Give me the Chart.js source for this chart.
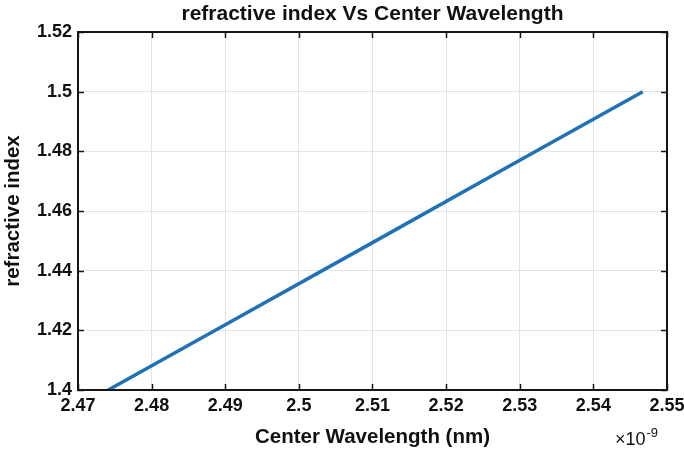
<!DOCTYPE html>
<html>
<head>
<meta charset="utf-8">
<script src="https://cdn.jsdelivr.net/npm/chart.js@4.4.1/dist/chart.umd.min.js"></script>
<style>
  html, body { margin: 0; padding: 0; background: #fff; }
  #wrap { width: 684px; height: 453px; }
</style>
</head>
<body>
<div id="wrap"><canvas id="chart" width="684" height="453"></canvas></div>
<script>
// Center wavelength in units of 1e-9 (axis shows x10^-9)
const wavelength = [2.4741, 2.49, 2.51, 2.53, 2.5467];
const refractiveIndex = [1.4, 1.4219, 1.4494, 1.477, 1.5];

const xTicks = [2.47, 2.48, 2.49, 2.5, 2.51, 2.52, 2.53, 2.54, 2.55];
const yTicks = [1.4, 1.42, 1.44, 1.46, 1.48, 1.5, 1.52];

const chartTitle = 'refractive index Vs Center Wavelength';
const xLabel = 'Center Wavelength (nm)';
const yLabel = 'refractive index';

const FONT = 'Liberation Sans, Arial, Helvetica, sans-serif';

// MATLAB style box, inward ticks, title and exponent label
const matlabAxes = {
    id: 'matlabAxes',
    afterDraw(chart) {
        const ctx = chart.ctx;
        const area = chart.chartArea;
        const xs = chart.scales.x;
        const ys = chart.scales.y;
        const tl = 6;

        ctx.save();
        ctx.strokeStyle = '#151515';
        ctx.lineWidth = 1.5;
        ctx.beginPath();
        xTicks.forEach(v => {
            const px = Math.round(xs.getPixelForValue(v)) + 0.5;
            ctx.moveTo(px, area.bottom); ctx.lineTo(px, area.bottom - tl);
            ctx.moveTo(px, area.top); ctx.lineTo(px, area.top + tl);
        });
        yTicks.forEach(v => {
            const py = Math.round(ys.getPixelForValue(v)) + 0.5;
            ctx.moveTo(area.left, py); ctx.lineTo(area.left + tl, py);
            ctx.moveTo(area.right, py); ctx.lineTo(area.right - tl, py);
        });
        ctx.stroke();

        ctx.lineWidth = 2;
        ctx.strokeRect(area.left, area.top, area.right - area.left, area.bottom - area.top);

        // title
        ctx.fillStyle = '#111';
        ctx.font = 'bold 21px ' + FONT;
        ctx.textAlign = 'center';
        ctx.textBaseline = 'middle';
        ctx.fillText(chartTitle, (area.left + area.right) / 2, 14);

        // x10^-9
        ctx.textAlign = 'left';
        ctx.textBaseline = 'alphabetic';
        ctx.font = '18px ' + FONT;
        const base = 445;
        const startX = 615;
        ctx.fillText('\u00d710', startX, base);
        const w = ctx.measureText('\u00d710').width;
        ctx.font = '13px ' + FONT;
        ctx.fillText('-9', startX + w + 1, base - 8);
        ctx.restore();
    }
};

const ctx = document.getElementById('chart').getContext('2d');
new Chart(ctx, {
    type: 'scatter',
    data: {
        datasets: [{
            data: wavelength.map((x, i) => ({ x: x, y: refractiveIndex[i] })),
            showLine: true,
            borderColor: '#1f72b8',
            borderWidth: 3.5,
            pointRadius: 0,
            tension: 0,
            fill: false
        }]
    },
    options: {
        responsive: false,
        animation: false,
        layout: { padding: { top: 32, right: 17, left: 0, bottom: 0 } },
        plugins: {
            legend: { display: false },
            tooltip: { enabled: false }
        },
        scales: {
            x: {
                type: 'linear',
                min: 2.47,
                max: 2.55,
                afterBuildTicks: axis => { axis.ticks = xTicks.map(v => ({ value: v })); },
                afterFit: axis => { axis.height = 63; axis.paddingLeft = 0; axis.paddingRight = 0; },
                ticks: {
                    autoSkip: false,
                    maxRotation: 0,
                    padding: 5,
                    color: '#111',
                    font: { family: FONT, size: 18, weight: 'bold' },
                    callback: v => String(v)
                },
                grid: { color: '#e3e3e3', lineWidth: 1, drawTicks: false },
                border: { display: false },
                title: {
                    display: true,
                    text: xLabel,
                    color: '#111',
                    font: { family: FONT, size: 20.5, weight: 'bold' },
                    padding: { top: 0, bottom: 3 }
                }
            },
            y: {
                type: 'linear',
                min: 1.4,
                max: 1.52,
                afterBuildTicks: axis => { axis.ticks = yTicks.map(v => ({ value: v })); },
                afterFit: axis => { axis.width = 78; axis.paddingTop = 0; axis.paddingBottom = 0; },
                ticks: {
                    autoSkip: false,
                    padding: 6,
                    color: '#111',
                    font: { family: FONT, size: 18, weight: 'bold' },
                    callback: v => String(v)
                },
                grid: { color: '#e3e3e3', lineWidth: 1, drawTicks: false },
                border: { display: false },
                title: {
                    display: true,
                    text: yLabel,
                    color: '#111',
                    font: { family: FONT, size: 20.5, weight: 'bold' },
                    padding: { top: 1, bottom: 0 }
                }
            }
        }
    },
    plugins: [matlabAxes]
});
</script>
</body>
</html>
